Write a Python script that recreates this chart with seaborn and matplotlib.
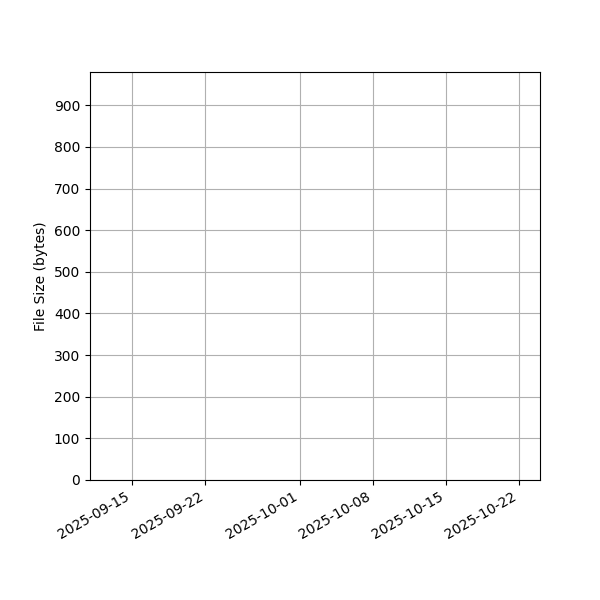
import matplotlib
matplotlib.use("Agg")
import matplotlib.pyplot as plt
import matplotlib.dates as mdates
from matplotlib.ticker import MultipleLocator
import seaborn as sns
import pandas as pd
import datetime as dt

# The reference chart shows no visible marks: empty series
dates = []
file_sizes = []

x_start = dt.datetime(2025, 9, 10, 23)
x_end = dt.datetime(2025, 10, 24)
y_max = 980

df = pd.DataFrame({"date": pd.to_datetime(pd.Series(dates, dtype="datetime64[ns]")),
                   "size": pd.Series(file_sizes, dtype=float)})

fig, ax = plt.subplots(figsize=(6, 6), dpi=100)
if len(df):
    sns.lineplot(data=df, x="date", y="size", ax=ax)
ax.set_xlim(x_start, x_end)
ax.set_ylim(0, y_max)
ax.yaxis.set_major_locator(MultipleLocator(100))
ax.set_xlabel("")
ax.set_ylabel("File Size (bytes)")
ax.grid(True)
ax.xaxis.set_major_locator(mdates.AutoDateLocator())
ax.xaxis.set_major_formatter(mdates.DateFormatter("%Y-%m-%d"))
fig.autofmt_xdate()
fig.subplots_adjust(left=0.15, right=0.9, top=0.88, bottom=0.2)
fig.savefig("out.png", dpi=100)
